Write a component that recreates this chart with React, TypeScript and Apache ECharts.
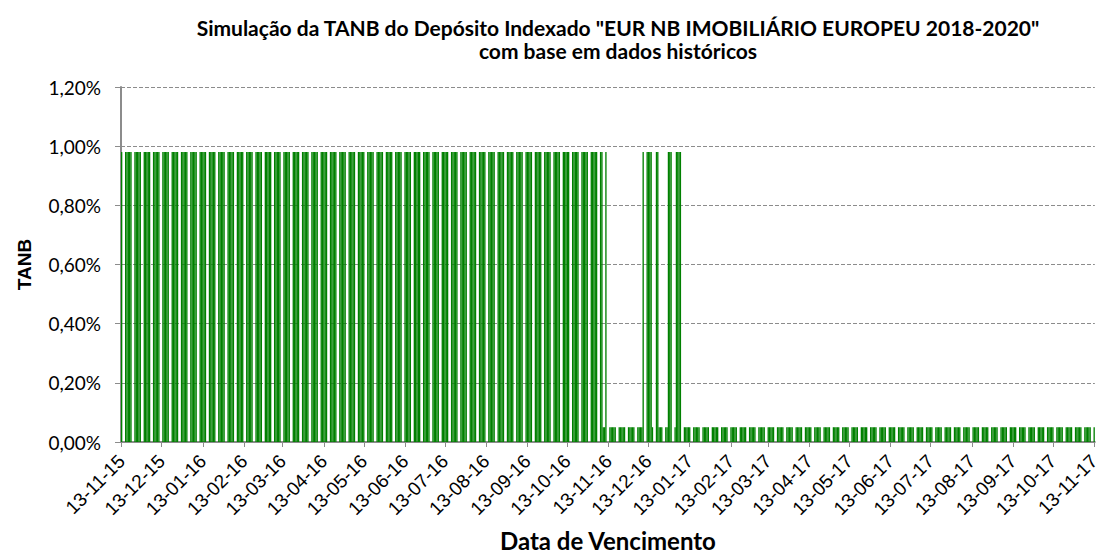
import React, { useEffect, useRef } from "react";
import * as echarts from "echarts";

// Simulated TANB (%), daily business days
const startDate = "2015-11-13";
const endDate = "2017-11-13";
const highValue = 0.98;
const lowValue = 0.05;
// inclusive periods where the TANB equals highValue; the other business days take lowValue
const highPeriods: [string, string][] = [
  ["2015-11-13", "2016-11-08"],
  ["2016-11-11", "2016-11-11"],
  ["2016-12-09", "2016-12-15"],
  ["2016-12-19", "2016-12-20"],
  ["2016-12-28", "2016-12-30"],
  ["2017-01-03", "2017-01-06"],
];

const pad = (n: number) => (n < 10 ? "0" + n : "" + n);

function buildData() {
  const cats: string[] = [];
  const vals: (number | string)[] = [];
  const s = new Date(startDate + "T00:00:00Z");
  const e = new Date(endDate + "T00:00:00Z");
  const ranges = highPeriods.map(([a, b]) => [
    new Date(a + "T00:00:00Z").getTime(),
    new Date(b + "T00:00:00Z").getTime(),
  ]);
  for (let t = s.getTime(); t <= e.getTime(); t += 86400000) {
    const d = new Date(t);
    cats.push(
      pad(d.getUTCDate()) + "-" + pad(d.getUTCMonth() + 1) + "-" + pad(d.getUTCFullYear() % 100)
    );
    const dow = d.getUTCDay();
    if (dow === 0 || dow === 6) {
      vals.push("-");
    } else {
      const high = ranges.some(([a, b]) => t >= a && t <= b);
      vals.push(high ? highValue : lowValue);
    }
  }
  return { cats, vals };
}

export default function App() {
  const ref = useRef<HTMLDivElement>(null);
  useEffect(() => {
    if (!ref.current) return;
    const chart = echarts.init(ref.current, undefined, { renderer: "svg" });
    const { cats, vals } = buildData();
    const isLabel = (_i: number, v: string) => v.startsWith("13-");
    chart.setOption({
      animation: false,
      backgroundColor: "#ffffff",
      title: {
        text: 'Simulação da TANB do Depósito Indexado "EUR NB IMOBILIÁRIO EUROPEU 2018-2020"\ncom base em dados históricos',
        left: 613,
        top: 11,
        textAlign: "center",
        textStyle: {
          fontFamily: "Lato",
          fontWeight: "bold",
          fontSize: 21,
          lineHeight: 23,
          color: "#000",
        },
      },
      grid: { left: 121, right: 2, top: 87, bottom: 117, containLabel: false },
      xAxis: {
        type: "category",
        data: cats,
        boundaryGap: true,
        name: "Data de Vencimento",
        nameLocation: "middle",
        nameGap: 86,
        nameTextStyle: {
          fontFamily: "Lato",
          fontWeight: "bold",
          fontSize: 24,
          color: "#000",
        },
        axisLine: { lineStyle: { color: "#8c8c8c", width: 2 } },
        axisTick: {
          show: true,
          interval: isLabel,
          alignWithLabel: true,
          length: 5,
          lineStyle: { color: "#8c8c8c", width: 1 },
        },
        axisLabel: {
          interval: isLabel,
          rotate: 45,
          fontFamily: "Liberation Sans",
          fontSize: 19,
          color: "#000",
          margin: 16,
        },
        splitLine: { show: false },
      },
      yAxis: {
        type: "value",
        min: 0,
        max: 1.2,
        interval: 0.2,
        name: "TANB",
        nameLocation: "middle",
        nameGap: 87,
        nameRotate: 90,
        nameTextStyle: {
          fontFamily: "Liberation Sans",
          fontWeight: "bold",
          fontSize: 19,
          color: "#000",
        },
        axisLine: { show: true, lineStyle: { color: "#8c8c8c", width: 2 } },
        axisTick: { show: true, inside: false, length: 6, lineStyle: { color: "#8c8c8c" } },
        axisLabel: {
          fontFamily: "Lato",
          fontSize: 19,
          color: "#000",
          margin: 20,
          formatter: (v: number) => v.toFixed(2).replace(".", ",") + "%",
        },
        splitLine: {
          show: true,
          lineStyle: { color: "#8c8c8c", type: [4, 2], width: 1 },
        },
      },
      series: [
        {
          type: "bar",
          data: vals,
          barCategoryGap: 0,
          barGap: 0,
          itemStyle: { color: "#008000" },
        },
      ],
    });
    return () => chart.dispose();
  }, []);
  return (
    <div
      ref={ref}
      style={{ position: "absolute", left: 0, top: 0, width: 1103, height: 559 }}
    />
  );
}
